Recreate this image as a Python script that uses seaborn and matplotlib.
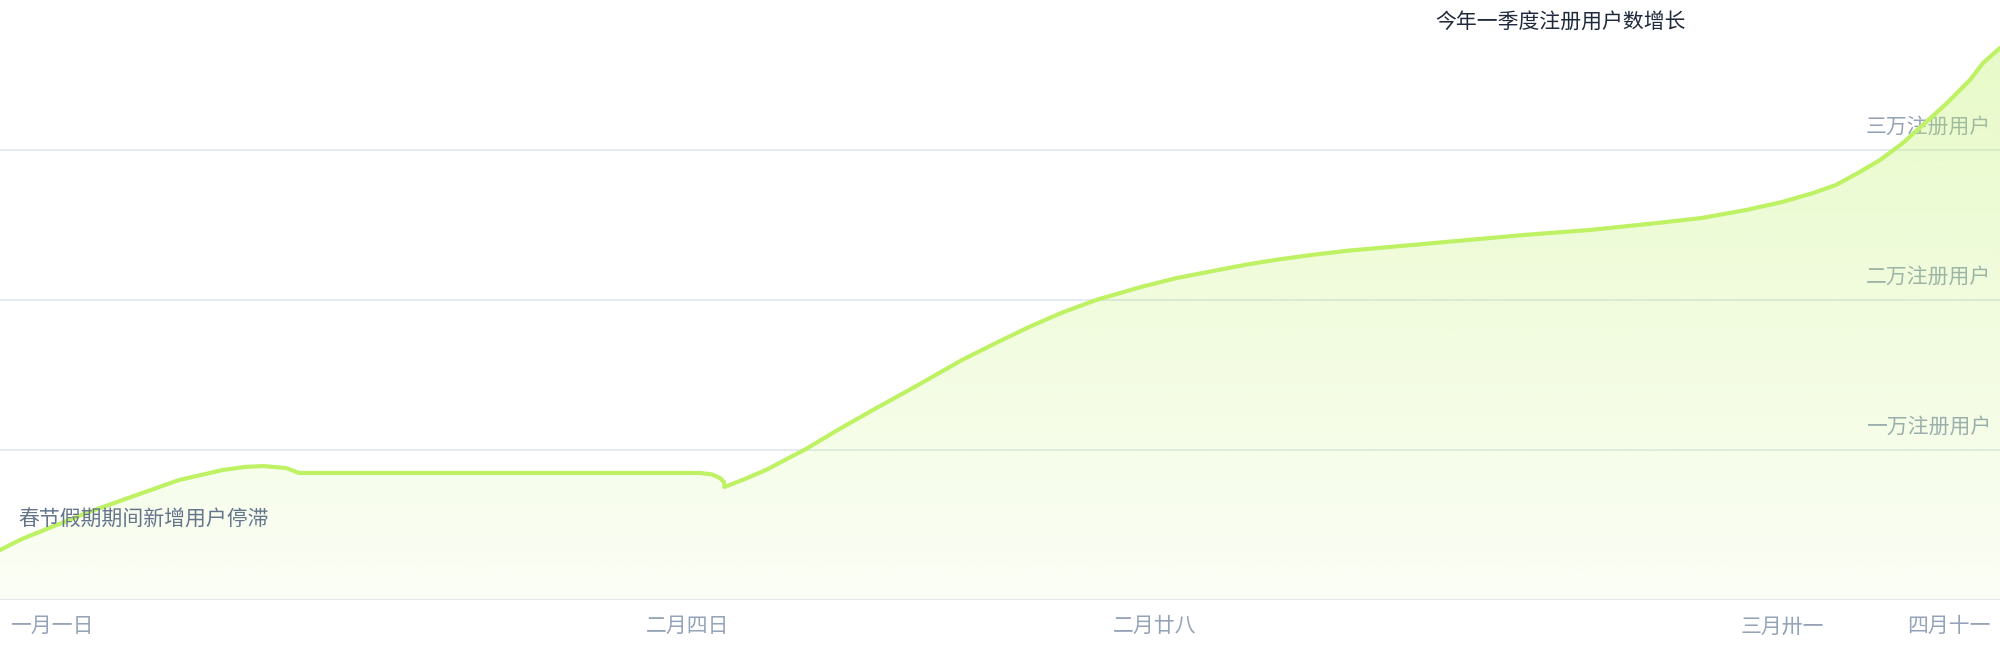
import numpy as np
import pandas as pd
import matplotlib
matplotlib.use("Agg")
import matplotlib.pyplot as plt
import matplotlib.transforms as mtransforms
from matplotlib.colors import to_rgb
import seaborn as sns

# days since the start of the period
days = [0, 1.1, 4.45, 8.95, 11.15, 12.25, 13.15, 14.3, 14.95, 35.0, 35.6, 36.0,
        36.2, 36.22, 37.25, 38.3, 40.3, 41.88, 43.65, 45.9, 48.1, 49.9, 51.45,
        53.05, 54.8, 57.05, 58.85, 60.4, 62.2, 63.75, 65.55, 67.5, 69.45, 72.8,
        76.15, 79.5, 82.85, 85.1, 87.3, 89.1, 90.65, 91.8, 92.9, 94.0, 95.15,
        96.25, 97.35, 98.5, 99.15, 100]
# registered users, in units of 10k
users = [0.333, 0.407, 0.587, 0.80, 0.867, 0.887, 0.893, 0.88, 0.847, 0.847,
         0.837, 0.813, 0.787, 0.753, 0.807, 0.867, 1.007, 1.133, 1.267, 1.433,
         1.60, 1.72, 1.82, 1.913, 2.0, 2.087, 2.147, 2.187, 2.233, 2.267, 2.30,
         2.33, 2.353, 2.393, 2.433, 2.467, 2.513, 2.547, 2.60, 2.653, 2.713,
         2.767, 2.847, 2.933, 3.047, 3.18, 3.313, 3.467, 3.58, 3.68]

xtick_days = [0, 34.4, 57.75, 89.1, 100]
xtick_labels = ["一月一日", "二月四日", "二月廿八", "三月卅一", "四月十一"]
ytick_values = [1, 2, 3]
ytick_labels = ["一万注册用户", "二万注册用户", "三万注册用户"]
title_text = "今年一季度注册用户数增长"
note_text = "春节假期期间新增用户停滞"

LINE = "#bef264"
GRID = "#e2e8f0"
MUTED = "#94a3b8"

sns.set_theme(style="white")
plt.rcParams["font.family"] = ["Noto Sans CJK SC", "DejaVu Sans"]

fig = plt.figure(figsize=(20, 6.6), dpi=100)
ax = fig.add_axes([0, 60 / 660, 1, 600 / 660])

df = pd.DataFrame({"day": days, "users": users})

# gradient area under the curve
poly = ax.fill_between(df["day"], df["users"], 0, color="none", lw=0)
vals = np.linspace(0, 4, 256)
rgba = np.zeros((256, 1, 4))
rgba[..., :3] = to_rgb(LINE)
rgba[:, 0, 3] = np.clip(0.06 + 0.08 * vals, 0, 1)
im = ax.imshow(rgba, extent=[0, 100, 0, 4], origin="lower", aspect="auto", zorder=2)
im.set_clip_path(poly.get_paths()[0], transform=ax.transData)

sns.lineplot(data=df, x="day", y="users", ax=ax, color=LINE, lw=3,
             sort=False, estimator=None, zorder=3,
             solid_joinstyle="round", solid_capstyle="round")

ax.set_xlim(0, 100)
ax.set_ylim(0, 4)
for v in [0] + ytick_values:
    ax.axhline(v, color=GRID, lw=1.3, zorder=0)
ax.set_yticks([])
for s in ax.spines.values():
    s.set_visible(False)
ax.set_xlabel("")
ax.set_ylabel("")

# y labels sit under the fill, at the right edge
ytrans = mtransforms.blended_transform_factory(ax.transAxes, ax.transData) + \
    mtransforms.ScaledTranslation(-9 / 100, 23.5 / 100, fig.dpi_scale_trans)
for v, lab in zip(ytick_values, ytick_labels):
    ax.text(1, v, lab, transform=ytrans, ha="right", va="center",
            color=MUTED, fontsize=15, zorder=1)

# x labels
ax.set_xticks(xtick_days, xtick_labels)
ax.tick_params(axis="x", length=0, pad=11, labelsize=15, labelcolor=MUTED)
ticklabels = ax.get_xticklabels()
ticklabels[0].set_ha("left")
ticklabels[0].set_transform(ticklabels[0].get_transform() +
                            mtransforms.ScaledTranslation(10 / 100, 0, fig.dpi_scale_trans))
ticklabels[-1].set_ha("right")
ticklabels[-1].set_transform(ticklabels[-1].get_transform() +
                             mtransforms.ScaledTranslation(-9 / 100, 0, fig.dpi_scale_trans))

ax.text(0.9, 0.54, note_text, ha="left", va="center", color="#64748b",
        fontsize=15, zorder=4)
fig.text(1561 / 2000, 1 - 21.5 / 660, title_text, ha="center", va="center",
         color="#1e293b", fontsize=15)

fig.savefig("out.png", dpi=100)
